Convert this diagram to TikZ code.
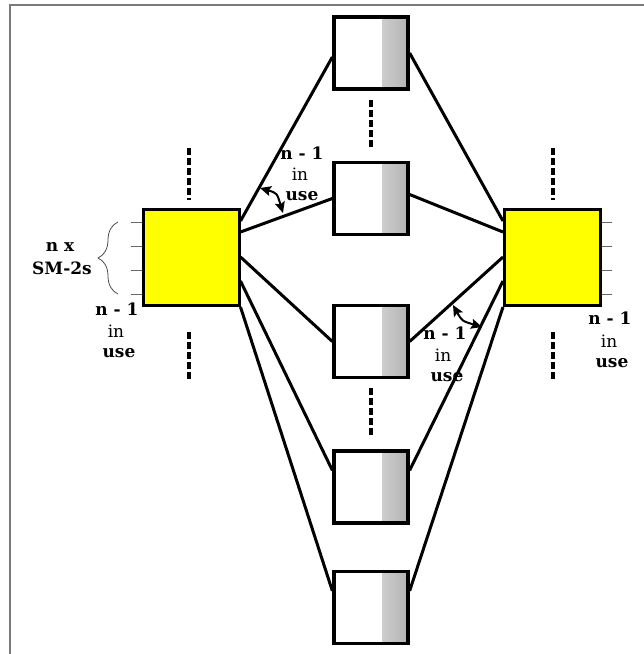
\documentclass[tikz,border=0pt]{standalone}
\usepackage{fontspec}
\setmainfont{DejaVu Serif}
\usetikzlibrary{calc,arrows.meta,decorations.pathreplacing}
\definecolor{frameGray}{HTML}{7A7A7A}
\definecolor{smYellow}{HTML}{FFFF00}
\tikzset{
  smbox/.style={draw=black, line width=3pt, fill=smYellow, minimum width=96pt, minimum height=96pt, inner sep=0pt},
  midbox/.style={draw=black, line width=3.3pt, fill=white, minimum width=74pt, minimum height=72pt, inner sep=0pt,
    path picture={\shade[left color=white, right color=black!30]
      ([xshift=-26pt]path picture bounding box.north east) rectangle (path picture bounding box.south east);}},
  link/.style={line width=3pt, black},
  gap/.style={line width=3.5pt, black, dash pattern=on 7pt off 3pt},
  stub/.style={line width=1pt, black!60},
  anglemark/.style={line width=2pt, black, {Stealth[length=11pt,width=10pt,inset=2pt]}-{Stealth[length=11pt,width=10pt,inset=2pt]}},
  lbl/.style={inner sep=0pt, font=\fontsize{17}{17}\selectfont\bfseries},
  lblin/.style={inner sep=0pt, font=\fontsize{17}{17}\selectfont},
}
\begin{document}
\begin{tikzpicture}[x=1pt,y=-1pt]
\useasboundingbox (0,0) rectangle (644,654);
% frame lines
\draw[frameGray, line width=2pt] (10,654) -- (10,5) -- (644,5);

% vertical "and so on" marks
\draw[gap] (189,148) -- (189,200);
\draw[gap] (189,332) -- (189,380);
\draw[gap] (553,148) -- (553,200);
\draw[gap] (553,332) -- (553,380);
\draw[gap] (371,100) -- (371,150);
\draw[gap] (371,388) -- (371,438);

% switching modules
\node[smbox] (L) at (191,257.5) {};
\node[smbox] (R) at (552.5,257.5) {};
\node[midbox] (B1) at (371,53) {};
\node[midbox] (B2) at (371,198.5) {};
\node[midbox] (B3) at (371,341.5) {};
\node[midbox] (B4) at (371,487) {};
\node[midbox] (B5) at (371,607.5) {};

% connection points on the outer modules
\foreach \side/\a in {L/north east, R/north west}{
  \coordinate (\side1) at ($(\side.\a)+(0,13)$);
  \coordinate (\side2) at ($(\side.\a)+(0,24)$);
  \coordinate (\side3) at ($(\side.\a)+(0,49)$);
  \coordinate (\side4) at ($(\side.\a)+(0,73)$);
}
\coordinate (L5) at (L.south east);
\coordinate (R5) at (R.south west);

% links
\draw[link] (L1) -- ($(B1.west)+(0,4)$);
\draw[link] (L2) -- (B2.west);
\draw[link] (L3) -- (B3.west);
\draw[link] (L4) -- ($(B4.north west)+(0,21)$);
\draw[link] (L5) -- ($(B5.north west)+(0,21)$);
\draw[link] (R1) -- (B1.east);
\draw[link] (R2) -- ($(B2.east)+(0,-4)$);
\draw[link] (R3) -- (B3.east);
\draw[link] (R4) -- ($(B4.north east)+(0,21)$);
\draw[link] (R5) -- ($(B5.north east)+(0,21)$);

% input stubs
\foreach \y in {222,246,270,294}{
  \draw[stub] (131,\y) -- (L.west |- 0,\y);
  \draw[stub] (R.east |- 0,\y) -- (612,\y);
}

% brace
\draw[black!70, line width=0.8pt, decorate, decoration={brace, amplitude=20pt}] (118,294) -- (118,222);

% angle marks
\coordinate (a1) at (260,188);
\coordinate (a2) at (283,213);
\draw[anglemark] (a1) .. controls (277,193) .. (a2);
\coordinate (a3) at (453,305);
\coordinate (a4) at (482,327);
\draw[anglemark] (a3) .. controls (462,321) .. (a4);

% labels
\node[lbl] (t1) at (302,153) {n - 1};
\node[lblin] (t2) at (300,174) {in};
\node[lbl] (t3) at (302,196) {use};

\node[lbl] (n1) at (60,247) {n x};
\node[lbl] (n2) at (62,268) {SM-2s};
\node[lbl] (l1) at (117,309) {n - 1};
\node[lblin] (l2) at (116,331) {in};
\node[lbl] (l3) at (119,353) {use};

\node[lbl] (r1) at (610,318) {n - 1};
\node[lblin] (r2) at (609,341) {in};
\node[lbl] (r3) at (612,363) {use};

\node[lbl] (c1) at (445,333) {n - 1};
\node[lblin] (c2) at (443,355) {in};
\node[lbl] (c3) at (447,377) {use};
\end{tikzpicture}
\end{document}
